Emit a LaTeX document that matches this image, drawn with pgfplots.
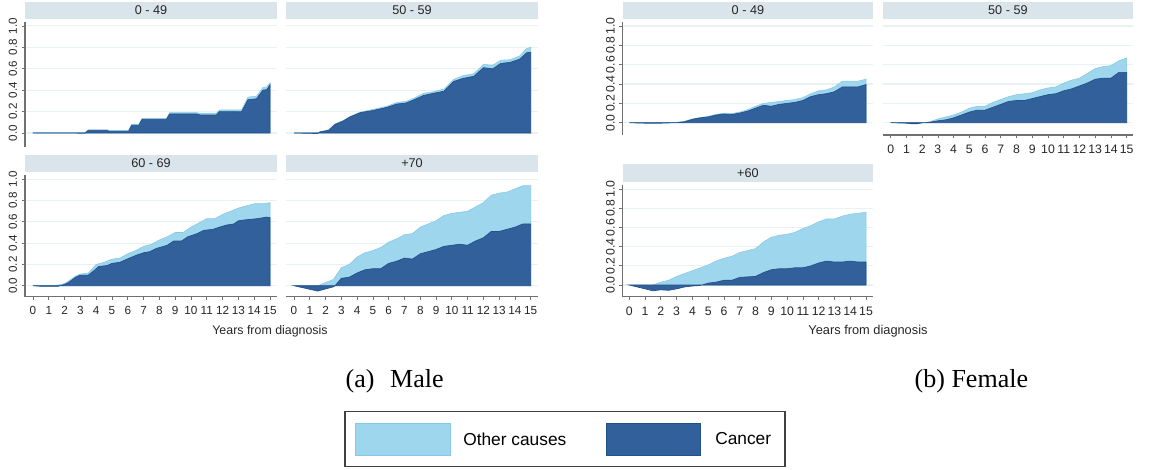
\documentclass[border=0pt]{standalone}
\usepackage{pgfplots}
\pgfplotsset{compat=1.18}
\usepackage{fontspec}
\setmainfont{Liberation Sans}
\newfontfamily\seriffont{Liberation Serif}
\definecolor{lightb}{HTML}{9ED6EE}
\definecolor{lightedge}{HTML}{86C8E6}
\definecolor{darkb}{HTML}{32609A}
\definecolor{darkedge}{HTML}{24508A}
\definecolor{hdr}{HTML}{DAE5EB}
\definecolor{gridc}{HTML}{E8F1F3}
\definecolor{axisgray}{HTML}{707070}
\pgfplotsset{
  panel/.style={
    scale only axis,
    axis lines*=left,
    axis line style={draw=axisgray, line width=0.8pt},
    tick style={draw=axisgray, line width=0.6pt},
    tick align=outside,
    major tick length=2.5pt,
    xtick={0,...,15},
    ytick={0,0.2,0.4,0.6,0.8,1},
    ymajorgrids,
    major grid style={draw=gridc, line width=0.8pt},
    /pgf/number format/assume math mode=true,
    yticklabel style={rotate=90, anchor=south, font=\fontsize{8.7}{9}\selectfont, text=black!85,
      /pgf/number format/fixed, /pgf/number format/fixed zerofill, /pgf/number format/precision=1},
    xticklabel style={font=\fontsize{8.8}{9}\selectfont, text=black!85, yshift=-1.5pt},
  },
  fpanel/.style={
    yticklabel style={font=\fontsize{9.2}{10}\selectfont},
    xticklabel style={font=\fontsize{9.2}{10}\selectfont},
  },
  noxaxis/.style={x axis line style={draw=none}, xtick=\empty},
  noyaxis/.style={y axis line style={draw=none}, ytick style={draw=none}, yticklabels={}},
  light/.style={fill=lightb, draw=lightedge, line width=0.4pt},
  dark/.style={fill=darkb, draw=darkedge, line width=0.5pt},
}
\begin{document}
\begin{tikzpicture}[x=0.75pt, y=-0.75pt]
\useasboundingbox (0,0) rectangle (1153,469);
\coordinate (M1) at (25,147);
\coordinate (M2) at (286,147);
\coordinate (M3) at (25,296.7);
\coordinate (M4) at (286,296.7);
\coordinate (F1) at (622.7,135);
\coordinate (F2) at (882.7,135);
\coordinate (F3) at (622.7,296.7);

% ---------- Male 0-49
\begin{axis}[panel, noxaxis, at={(M1)}, anchor=south west, width=189pt, height=93.75pt,
  xmin=-0.506, xmax=15.443, ymin=-0.131, ymax=1.037]
\addplot[light] coordinates {(0,0.003) (3.3,0.003) (3.5,0.03) (4.7,0.03) (4.8,0.025) (6.05,0.025) (6.25,0.082) (6.7,0.082) (6.9,0.135) (8.45,0.135) (8.65,0.19) (10.35,0.19) (10.6,0.185) (11.6,0.185) (11.8,0.215) (13.2,0.215) (13.6,0.335) (14.15,0.345) (14.55,0.425) (14.8,0.43) (15,0.47)} \closedcycle;
\addplot[dark] coordinates {(0,0) (3.3,-0.002) (3.5,0.025) (4.7,0.025) (4.8,0.016) (6.05,0.016) (6.25,0.072) (6.7,0.072) (6.9,0.128) (8.45,0.128) (8.65,0.178) (10.35,0.178) (10.6,0.168) (11.6,0.168) (11.8,0.2) (13.2,0.198) (13.6,0.31) (14.15,0.32) (14.55,0.4) (14.8,0.405) (15,0.45)} \closedcycle;
\end{axis}

% ---------- Male 50-59
\begin{axis}[panel, noxaxis, noyaxis, at={(M2)}, anchor=south west, width=189pt, height=93.75pt,
  xmin=-0.507, xmax=15.46, ymin=-0.131, ymax=1.037]
\addplot[light] coordinates {(0,0) (1.5,0) (1.65,0.012) (2.2,0.03) (2.6,0.085) (3.1,0.115) (3.55,0.155) (4.2,0.195) (5.0,0.22) (5.9,0.25) (6.5,0.285) (7.1,0.295) (7.6,0.325) (8.2,0.37) (8.8,0.385) (9.5,0.41) (10.1,0.5) (10.7,0.535) (11.4,0.555) (12.0,0.64) (12.6,0.635) (13.1,0.68) (13.7,0.685) (14.3,0.72) (14.75,0.79) (15,0.80)} \closedcycle;
\addplot[dark] coordinates {(0,0) (1.5,-0.005) (1.65,0.01) (2.2,0.025) (2.6,0.08) (3.1,0.11) (3.55,0.15) (4.2,0.19) (5.0,0.21) (5.9,0.24) (6.5,0.27) (7.1,0.28) (7.6,0.31) (8.2,0.35) (8.8,0.37) (9.5,0.39) (10.1,0.48) (10.7,0.51) (11.4,0.53) (12.0,0.61) (12.6,0.60) (13.1,0.65) (13.7,0.66) (14.3,0.69) (14.75,0.75) (15,0.755)} \closedcycle;
\end{axis}

% ---------- Male 60-69
\begin{axis}[panel, at={(M3)}, anchor=south west, width=189pt, height=91.275pt,
  xmin=-0.506, xmax=15.443, ymin=-0.103, ymax=1.040]
\addplot[light] coordinates {(0,0) (1.0,0) (1.5,0.005) (2.0,0.02) (2.7,0.09) (3.0,0.11) (3.5,0.12) (4.0,0.20) (4.5,0.22) (5.0,0.25) (5.5,0.26) (6.0,0.30) (6.5,0.33) (7.0,0.37) (7.5,0.39) (8.0,0.43) (8.5,0.46) (9.0,0.50) (9.5,0.50) (10.0,0.55) (10.5,0.59) (11.0,0.63) (11.5,0.63) (12.0,0.67) (12.5,0.70) (13.0,0.73) (13.5,0.75) (14.0,0.77) (14.5,0.77) (15,0.78)} \closedcycle;
\addplot[dark] coordinates {(0,0) (0.5,-0.005) (1.6,-0.005) (1.95,0.01) (2.25,0.03) (2.7,0.08) (3.0,0.10) (3.5,0.10) (3.85,0.14) (4.15,0.18) (4.7,0.19) (5.0,0.21) (5.5,0.22) (5.95,0.25) (6.6,0.29) (7.0,0.31) (7.4,0.32) (7.8,0.35) (8.5,0.38) (8.9,0.42) (9.4,0.42) (9.8,0.46) (10.4,0.49) (10.8,0.52) (11.4,0.53) (11.8,0.55) (12.25,0.57) (12.7,0.58) (13.0,0.61) (13.5,0.62) (14.2,0.63) (14.8,0.645) (15,0.64)} \closedcycle;
\end{axis}

% ---------- Male +70
\begin{axis}[panel, noyaxis, at={(M4)}, anchor=south west, width=189pt, height=91.275pt,
  xmin=-0.507, xmax=15.46, ymin=-0.103, ymax=1.040]
\addplot[light] coordinates {(0,0) (1.5,0) (2.0,0.03) (2.5,0.06) (3.0,0.17) (3.5,0.20) (4.0,0.27) (4.5,0.31) (5.0,0.33) (5.5,0.36) (6.0,0.41) (6.5,0.44) (7.0,0.48) (7.5,0.49) (8.0,0.55) (8.5,0.58) (9.0,0.61) (9.5,0.66) (10.0,0.68) (10.5,0.69) (11.0,0.70) (11.5,0.74) (12.0,0.78) (12.5,0.85) (13.0,0.87) (13.5,0.88) (14.0,0.91) (14.5,0.94) (15,0.94)} \closedcycle;
\addplot[dark] coordinates {(0,0) (1.5,-0.05) (2.0,-0.03) (2.5,-0.01) (2.6,0.0) (3.0,0.07) (3.5,0.08) (4.0,0.12) (4.5,0.15) (5.0,0.16) (5.5,0.16) (6.0,0.21) (6.5,0.23) (7.0,0.26) (7.5,0.25) (8.0,0.30) (8.5,0.32) (9.0,0.34) (9.5,0.37) (10.0,0.38) (10.5,0.39) (11.0,0.38) (11.5,0.42) (12.0,0.45) (12.5,0.51) (13.0,0.51) (13.5,0.53) (14.0,0.55) (14.5,0.58) (15,0.58)} \closedcycle;
\end{axis}

% ---------- Female 0-49
\begin{axis}[panel, fpanel, noxaxis, at={(F1)}, anchor=south west, width=187.7pt, height=84.75pt,
  xmin=-0.418, xmax=15.44, ymin=-0.127, ymax=1.041]
\addplot[light] coordinates {(0,0) (2,0) (3,0.005) (3.5,0.015) (4,0.04) (4.5,0.055) (5,0.065) (5.5,0.085) (6,0.10) (6.5,0.095) (7,0.11) (7.5,0.135) (8,0.17) (8.5,0.20) (9,0.21) (9.5,0.22) (10,0.23) (10.5,0.24) (11,0.26) (11.5,0.30) (12,0.33) (12.5,0.34) (13,0.37) (13.5,0.43) (14,0.43) (14.5,0.43) (15,0.45)} \closedcycle;
\addplot[dark] coordinates {(0,0) (0.5,-0.003) (1,-0.005) (2,-0.005) (3,0.0) (3.5,0.01) (4,0.035) (4.5,0.05) (5,0.06) (5.5,0.08) (6,0.09) (6.5,0.085) (7,0.10) (7.5,0.12) (8,0.15) (8.5,0.18) (9,0.17) (9.5,0.19) (10,0.20) (10.5,0.21) (11,0.23) (11.5,0.27) (12,0.29) (12.5,0.30) (13,0.32) (13.5,0.37) (14,0.37) (14.5,0.37) (15,0.395)} \closedcycle;
\end{axis}

% ---------- Female 50-59
\begin{axis}[panel, fpanel, noyaxis, at={(F2)}, anchor=south west, width=187.7pt, height=84.75pt,
  xmin=-0.509, xmax=15.40, ymin=-0.127, ymax=1.041]
\addplot[light] coordinates {(0,0) (2,0) (2.5,0.01) (3,0.04) (3.5,0.06) (4,0.08) (4.5,0.11) (5,0.15) (5.5,0.17) (6,0.17) (6.5,0.21) (7,0.24) (7.5,0.27) (8,0.29) (8.5,0.30) (9,0.31) (9.5,0.34) (10,0.36) (10.5,0.37) (11,0.41) (11.5,0.44) (12,0.46) (12.5,0.51) (13,0.56) (13.5,0.58) (14,0.59) (14.5,0.64) (15,0.67)} \closedcycle;
\addplot[dark] coordinates {(0,0) (1,-0.005) (1.3,-0.01) (1.7,-0.01) (2,-0.002) (2.5,0.005) (3,0.02) (3.5,0.03) (4,0.05) (4.5,0.08) (5,0.11) (5.5,0.13) (6,0.13) (6.5,0.16) (7,0.19) (7.5,0.22) (8,0.23) (8.5,0.23) (9,0.25) (9.5,0.27) (10,0.29) (10.5,0.30) (11,0.33) (11.5,0.35) (12,0.38) (12.5,0.41) (13,0.45) (13.5,0.46) (14,0.46) (14.5,0.52) (15,0.52)} \closedcycle;
\end{axis}

% ---------- Female +60
\begin{axis}[panel, fpanel, at={(F3)}, anchor=south west, width=187.7pt, height=83.8pt,
  xmin=-0.418, xmax=15.44, ymin=-0.122, ymax=1.045]
\addplot[light] coordinates {(0,0) (1.5,0) (2,0.03) (2.5,0.05) (3,0.09) (3.5,0.12) (4,0.15) (4.5,0.18) (5,0.21) (5.5,0.25) (6,0.28) (6.5,0.30) (7,0.34) (7.5,0.36) (8,0.38) (8.5,0.45) (9,0.50) (9.5,0.52) (10,0.53) (10.5,0.55) (11,0.59) (11.5,0.62) (12,0.66) (12.5,0.69) (13,0.69) (13.5,0.72) (14,0.74) (14.5,0.75) (15,0.76)} \closedcycle;
\addplot[dark] coordinates {(0,0) (0.5,-0.02) (1,-0.04) (1.5,-0.06) (2,-0.05) (2.5,-0.055) (3,-0.04) (3.5,-0.02) (4,-0.01) (4.5,-0.005) (5,0.02) (5.5,0.03) (6,0.05) (6.5,0.05) (7,0.08) (7.5,0.085) (8,0.09) (8.5,0.13) (9,0.16) (9.5,0.17) (10,0.17) (10.5,0.18) (11,0.18) (11.5,0.20) (12,0.23) (12.5,0.25) (13,0.24) (13.5,0.24) (14,0.25) (14.5,0.24) (15,0.24)} \closedcycle;
\end{axis}

% ---------- panel headers
\tikzset{hdrtext/.style={font=\fontsize{9.5}{10}\selectfont, text=black!85}}
\fill[hdr] (25,2) rectangle (277,19);     \node[hdrtext] at (151,10.5) {0 - 49};
\fill[hdr] (286,2) rectangle (538,19);    \node[hdrtext] at (412,10.5) {50 - 59};
\fill[hdr] (25,155) rectangle (277,172);  \node[hdrtext] at (151,163.5) {60 - 69};
\fill[hdr] (286,155) rectangle (538,172); \node[hdrtext] at (412,163.5) {+70};
\fill[hdr] (622.7,2) rectangle (873,19);  \node[hdrtext] at (747.9,10.5) {0 - 49};
\fill[hdr] (882.7,2) rectangle (1133,19); \node[hdrtext] at (1007.9,10.5) {50 - 59};
\fill[hdr] (622.7,164) rectangle (873,182); \node[hdrtext] at (747.9,173) {+60};

% ---------- x labels
\node[font=\fontsize{9.3}{10}\selectfont, text=black!85] at (270,331) {Years from diagnosis};
\node[font=\fontsize{9.6}{10}\selectfont, text=black!85] at (868,331) {Years from diagnosis};

% ---------- captions
\node[font=\seriffont\fontsize{19.5}{21}\selectfont, anchor=base west] at (341,387) {(a)\hspace{0.6em}Male};
\node[font=\seriffont\fontsize{19.5}{21}\selectfont, anchor=base west] at (910,387) {(b) Female};

% ---------- legend
\draw[draw=black!75, line width=0.9pt] (345,411.7) rectangle (785,466.7);
\filldraw[fill=lightb, draw=lightedge, line width=0.5pt] (355,423) rectangle (450,455);
\node[font=\fontsize{13}{14}\selectfont, anchor=west, inner sep=0pt] at (463,439) {Other causes};
\filldraw[fill=darkb, draw=darkedge, line width=0.6pt] (606,423) rectangle (700,455);
\node[font=\fontsize{13}{14}\selectfont, anchor=west, inner sep=0pt] at (715,439) {Cancer};
\end{tikzpicture}
\end{document}
